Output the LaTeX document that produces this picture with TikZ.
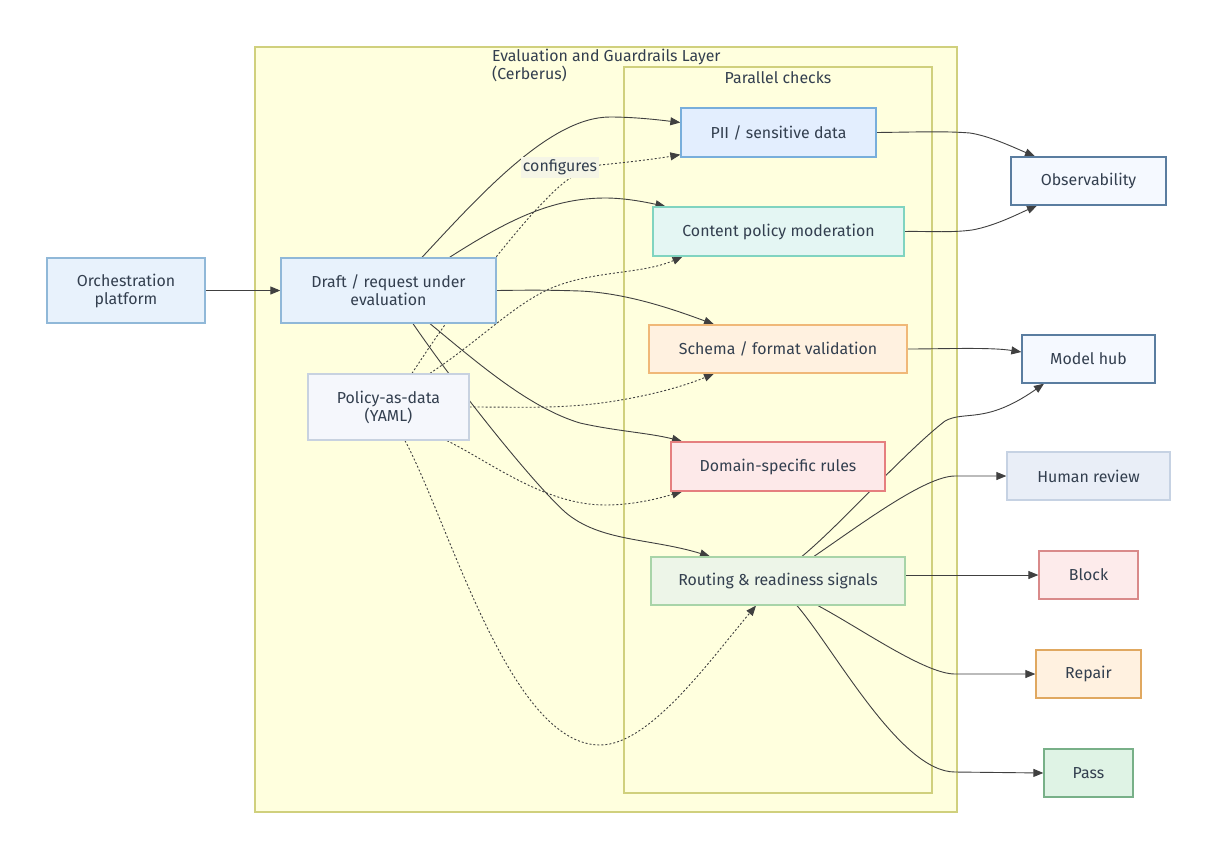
\documentclass[tikz,border=0pt]{standalone}
\usepackage{fontspec}
\setmainfont{Fira Sans}
\usetikzlibrary{arrows.meta}
\pgfdeclarelayer{edges}
\pgfdeclarelayer{clusters}
\pgfsetlayers{clusters,edges,main}
\definecolor{ink}{HTML}{333F4F}
\definecolor{wire}{HTML}{404040}
\begin{document}
\begin{tikzpicture}[x=1pt,y=-1pt,
box/.style={
	rectangle,line width=1.3pt,align=center,text=ink,inner sep=0pt,
	font=\fontsize{15.9}{18}\selectfont},
cluster/.style={
	rectangle,draw={rgb,255:red,208;green,208;blue,125},fill={rgb,255:red,255;green,255;blue,222},line width=1.2pt},
title/.style={text=ink,align=left,inner sep=0pt,
	font=\fontsize{15.9}{18}\selectfont},
flow/.style={draw=wire,line width=0.9pt,-{Triangle[length=10pt,width=8pt]}},
conf/.style={flow,dash pattern=on 2pt off 2pt},
input/.style={box,draw={rgb,255:red,144;green,184;blue,216},fill={rgb,255:red,232;green,242;blue,252},minimum height=65pt},
sink/.style={box,draw={rgb,255:red,90;green,125;blue,160},fill={rgb,255:red,245;green,249;blue,255},minimum height=48pt}
]
\useasboundingbox (0,0) rectangle (1217,860);
\begin{pgfonlayer}{clusters}
\fill[white] (0,0) rectangle (1217,860);
\node[cluster,minimum width=702pt,minimum height=765pt] (guard) at (606,429.5) {};
\node[cluster,minimum width=308pt,minimum height=726pt] (parallel) at (778,430) {};
\end{pgfonlayer}
\node[title,anchor=north west] (guardtitle) at (492,49) {Evaluation and Guardrails Layer\\(Cerberus)};
\node[title] (paralleltitle) at (778,78) {Parallel checks};
% inputs
\node[input,minimum width=158pt] (orch) at (126,290.5) {Orchestration\\platform};
\node[input,minimum width=215pt] (draft) at (388.5,290.5) {Draft / request under\\evaluation};
\node[box,draw={rgb,255:red,200;green,210;blue,224},fill={rgb,255:red,245;green,247;blue,252},minimum width=161pt,minimum height=66pt] (policy) at (388.5,407) {Policy-as-data\\(YAML)};
% checks
\node[box,draw={rgb,255:red,120;green,174;blue,219},fill={rgb,255:red,227;green,238;blue,254},minimum width=195pt,minimum height=49pt] (pii) at (778.5,132.5) {PII / sensitive data};
\node[box,draw={rgb,255:red,128;green,212;blue,192},fill={rgb,255:red,228;green,246;blue,243},minimum width=251pt,minimum height=49pt] (content) at (778.5,231.5) {Content policy moderation};
\node[box,draw={rgb,255:red,240;green,184;blue,120},fill={rgb,255:red,255;green,241;blue,224},minimum width=258pt,minimum height=48pt] (schema) at (778,349) {Schema / format validation};
\node[box,draw={rgb,255:red,229;green,127;blue,127},fill={rgb,255:red,253;green,233;blue,233},minimum width=214pt,minimum height=49pt] (domain) at (778,466.5) {Domain-specific rules};
\node[box,draw={rgb,255:red,168;green,212;blue,168},fill={rgb,255:red,237;green,245;blue,232},minimum width=254pt,minimum height=48pt] (routing) at (778,581) {Routing \& readiness signals};
% outputs
\node[sink,minimum width=155pt] (obs) at (1088.5,181) {Observability};
\node[sink,minimum width=133pt] (hub) at (1088.5,359) {Model hub};
\node[box,draw={rgb,255:red,198;green,210;blue,227},fill={rgb,255:red,233;green,238;blue,247},minimum width=163pt,minimum height=48pt] (human) at (1088.5,476) {Human review};
\node[box,draw={rgb,255:red,217;green,138;blue,138},fill={rgb,255:red,253;green,235;blue,235},minimum width=99pt,minimum height=48pt] (block) at (1088.5,575) {Block};
\node[box,draw={rgb,255:red,224;green,168;blue,96},fill={rgb,255:red,255;green,241;blue,224},minimum width=105pt,minimum height=48pt] (repair) at (1088.5,674) {Repair};
\node[box,draw={rgb,255:red,120;green,176;blue,136},fill={rgb,255:red,223;green,243;blue,229},minimum width=89pt,minimum height=48pt] (pass) at (1088.5,773) {Pass};
\node[title,fill={rgb,255:red,245;green,245;blue,230},minimum width=78pt,minimum height=21pt,align=center] (configures) at (560,167) {configures};
\begin{pgfonlayer}{edges}
\draw[flow] (orch) -- (draft);
% solid lines out of the draft
\draw[flow] ([xshift=33.5pt]draft.north) .. controls (480,195) and (550,117) .. (610,117) .. controls (635,117) and (660,120) .. ([yshift=10pt]pii.west);
\draw[flow] ([xshift=61pt]draft.north) .. controls (505,222) and (550,198) .. (605,198) .. controls (625,198) and (645,202) .. ([xshift=-113pt]content.north);
\draw[flow] (draft.east) .. controls (530,290) and (550,290) .. (580,291) .. controls (625,293) and (670,308) .. ([xshift=-64pt]schema.north);
\draw[flow] ([xshift=41.5pt]draft.south) .. controls (480,365) and (530,408) .. (580,423) .. controls (615,431) and (650,433) .. ([xshift=-96pt]domain.north);
\draw[flow] ([xshift=24.5pt]draft.south) .. controls (455,385) and (530,480) .. (565,512) .. controls (600,542) and (650,538) .. ([xshift=-68pt]routing.north);
% dotted lines out of the policy
\draw[conf] ([xshift=23.5pt]policy.north) .. controls (450,315) and (490,262) .. (533,213) .. controls (555,190) and (570,172) .. (600,165) .. controls (630,162) and (655,159) .. ([yshift=3pt]pii.south west);
\draw[conf] ([xshift=41.5pt]policy.north) .. controls (480,340) and (510,308) .. (547,290) .. controls (590,270) and (640,275) .. ([xshift=-96pt]content.south);
\draw[conf] (policy.east) .. controls (510,407) and (540,408) .. (570,406) .. controls (620,403) and (675,390) .. ([xshift=-64pt]schema.south);
\draw[conf] ([xshift=58.5pt]policy.south) .. controls (490,462) and (545,505) .. (605,505) .. controls (635,505) and (660,498) .. ([xshift=-96pt]domain.south);
\draw[conf] ([xshift=16.5pt]policy.south) .. controls (450,525) and (510,745) .. (600,745) .. controls (650,745) and (710,660) .. ([xshift=-22pt]routing.south);
% out of the checks
\draw[flow] (pii.east) .. controls (920,132) and (945,131) .. (970,133) .. controls (990,136) and (1015,148) .. ([xshift=-53.5pt]obs.north);
\draw[flow] (content.east) .. controls (925,231) and (950,233) .. (972,230) .. controls (995,226) and (1020,213) .. ([xshift=-51.5pt]obs.south);
\draw[flow] (schema.east) .. controls (940,349) and (990,347) .. ([yshift=7pt]hub.west);
\draw[flow] ([xshift=24pt]routing.north) .. controls (840,525) and (905,452) .. (945,421) .. controls (965,410) and (985,425) .. ([xshift=-44.5pt]hub.south);
\draw[flow] ([xshift=36pt]routing.north) .. controls (860,525) and (925,476) .. (955,476) -- (human.west);
\draw[flow] ([yshift=6pt]routing.east) -- (block.west);
\draw[flow] ([xshift=40pt]routing.south) .. controls (860,628) and (925,674) .. (955,674) -- (repair.west);
\draw[flow] ([xshift=19pt]routing.south) .. controls (835,650) and (900,772) .. (955,772) -- (pass.west);
\end{pgfonlayer}
\end{tikzpicture}
\end{document}
